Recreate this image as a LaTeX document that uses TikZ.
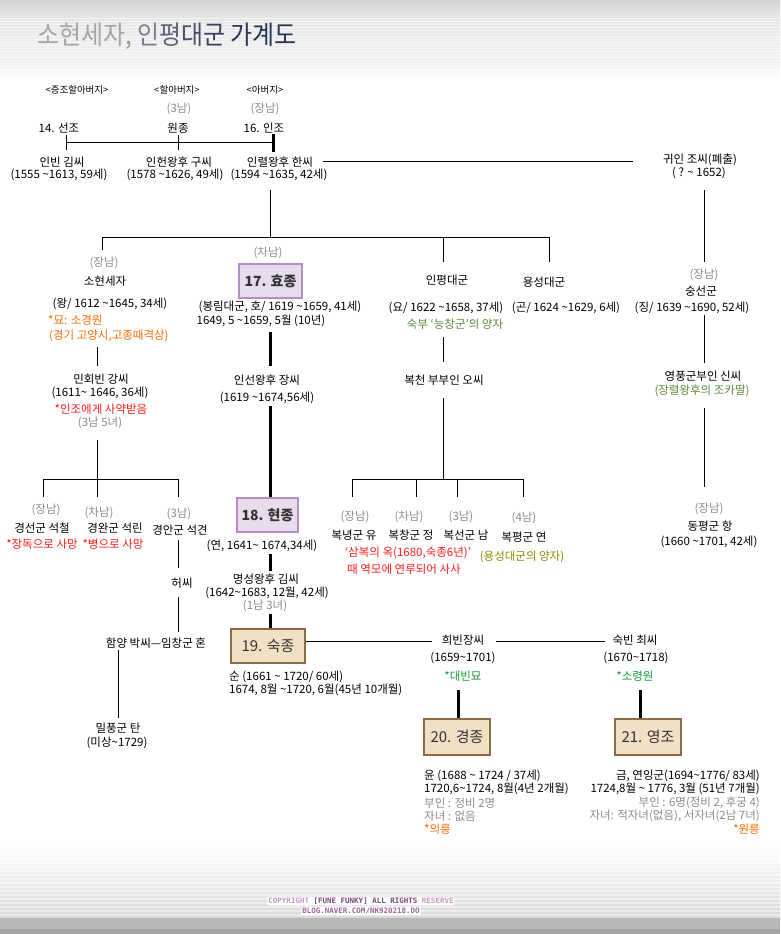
\documentclass[tikz,border=0pt]{standalone}
\usepackage{fontspec}
\usepackage{graphicx}
\setmainfont{Noto Sans CJK KR}
\newfontfamily\monof{DejaVu Sans Mono}
\definecolor{grayt}{HTML}{8C8C8C}
\definecolor{orng}{HTML}{FF6A00}
\definecolor{redt}{HTML}{FF1A1A}
\definecolor{greenA}{HTML}{5A8A3C}
\definecolor{greenB}{HTML}{119933}
\definecolor{olive}{HTML}{8C8C00}
\definecolor{purpF}{HTML}{E8DCEC}
\definecolor{purpB}{HTML}{B88CC8}
\definecolor{beigeF}{HTML}{F2E0C4}
\definecolor{brownB}{HTML}{8A6A48}
\definecolor{boxtext}{HTML}{333333}
\definecolor{tA}{HTML}{A5A5A5}
\definecolor{tB}{HTML}{969696}
\definecolor{tC}{HTML}{7A808E}
\definecolor{tD}{HTML}{5C6678}
\definecolor{tE}{HTML}{44506A}
\definecolor{tF}{HTML}{364460}
\definecolor{tG}{HTML}{2A3A58}
\definecolor{tH}{HTML}{233352}
\definecolor{cpL}{HTML}{C49AC4}
\definecolor{cpD}{HTML}{7A4A7A}
\definecolor{cpM}{HTML}{9A6A9A}
\begin{document}
\begin{tikzpicture}[x=1pt,y=-1pt,
  tx/.style={inner sep=0pt, font=\fontsize{11.5}{13}\selectfont, text=black},
  gr/.style={tx, text=grayt},
  sm/.style={inner sep=0pt, font=\fontsize{9.5}{11}\selectfont, text=black},
  ort/.style={tx, text=orng},
  rdt/.style={tx, text=redt},
  gnA/.style={tx, text=greenA},
  gnB/.style={tx, text=greenB},
  olt/.style={tx, text=olive},
  ln/.style={line width=1pt, draw=black},
  royal/.style={line width=3pt, draw=black},
  boxA/.style={draw=purpB, fill=purpF, line width=1.2pt, inner sep=0pt,
     font=\bfseries\fontsize{14}{16}\selectfont, text=boxtext},
  boxB/.style={draw=brownB, fill=beigeF, line width=1.2pt, inner sep=0pt,
     font=\fontsize{15}{17}\selectfont, text=boxtext}
]
\useasboundingbox (0,0) rectangle (780,934);
\fill[white] (0,0) rectangle (780,934);
% header band
\shade[top color=black!17, bottom color=black!10] (0,0) rectangle (780,16);
\shade[top color=black!10, bottom color=black!5] (0,16) rectangle (780,60);
\shade[top color=black!6, bottom color=white] (0,60) rectangle (780,80);
\foreach \yy in {18,21,...,75} \fill[white, opacity=0.5] (0,\yy) rectangle (780,\yy+1);
% footer band
\shade[top color=white, bottom color=black!15] (0,845) rectangle (780,918);
\foreach \yy in {850,854,...,914} \fill[white, opacity=0.45] (0,\yy) rectangle (780,\yy+1.5);
\fill[black!28] (0,918) rectangle (780,929);
\fill[black!36] (0,929) rectangle (780,934);

% title
\node[anchor=west, inner sep=0pt] (title) at (37,36) {\scalebox{0.92}[1]{\fontsize{26}{30}\selectfont
 \textcolor{tA}{소현세자}\textcolor{tB}{,} \textcolor{tC}{인}\textcolor{tD}{평}\textcolor{tE}{대}\textcolor{tF}{군} \textcolor{tG}{가}\textcolor{tH}{계도}}};

% generation labels
\node[sm] (lab1) at (77,90) {<증조할아버지>};
\node[sm] (lab2) at (177,90) {<할아버지>};
\node[sm] (lab3) at (265,90) {<아버지>};
\node[gr] (wj3) at (179,109) {(3남)};
\node[gr] (ij1) at (265,109) {(장남)};
\node[tx] (seonjo) at (59,128) {14. 선조};
\node[tx] (wonjong) at (178,128) {원종};
\node[tx] (injo) at (264,128) {16. 인조};
\node[tx] (inbin) at (62,162) {인빈 김씨};
\node[tx] (inbinY) at (59,175) {(1555 \textasciitilde1613, 59세)};
\node[tx] (inheon) at (179,162) {인헌왕후 구씨};
\node[tx] (inheonY) at (175,175) {(1578 \textasciitilde1626, 49세)};
\node[tx] (inryeol) at (280,162) {인렬왕후 한씨};
\node[tx] (inryeolY) at (279,175) {(1594 \textasciitilde1635, 42세)};
\node[tx] (gwiin) at (700,160) {귀인 조씨(폐출)};
\node[tx] (gwiinY) at (699,173) {( ?  \textasciitilde\ 1652)};

% generation 2
\node[gr] (sh1) at (104,263) {(장남)};
\node[tx] (sohyeon) at (105,281) {소현세자};
\node[gr] (hj2) at (268,253) {(차남)};
\node[boxA, minimum width=63pt, minimum height=34pt] (hyojong) at (270.5,281) {17. 효종};
\node[tx] (inpyeong) at (447,280) {인평대군};
\node[tx] (yongseong) at (544,282) {용성대군};
\node[gr] (ss1) at (704,275) {(장남)};
\node[tx] (sungseon) at (701,291) {숭선군};
\node[tx] (sohyeonY) at (110,304) {(왕/ 1612 \textasciitilde1645, 34세)};
\node[tx] (hyojongY) at (280,307) {(봉림대군, 호/ 1619 \textasciitilde1659, 41세)};
\node[tx] (hyojongR) at (261,321) {1649, 5 \textasciitilde1659, 5월 (10년)};
\node[ort, anchor=west] (sohyeonM) at (48,320) {*묘: 소경원};
\node[ort, anchor=west] (sohyeonM2) at (49,336) {(경기 고양시,고종때격상)};
\node[tx] (inpyeongY) at (446,308) {(요/ 1622 \textasciitilde1658, 37세)};
\node[tx] (yongseongY) at (566,308) {(곤/ 1624 \textasciitilde1629, 6세)};
\node[tx] (sungseonY) at (692,308) {(징/ 1639 \textasciitilde1690, 52세)};
\node[gnA] (inpyeongN) at (455,324) {숙부 ‘능창군’의 양자};
\node[tx] (minhoe) at (101,379) {민회빈 강씨};
\node[tx] (minhoeY) at (100,393) {(1611\textasciitilde\ 1646, 36세)};
\node[rdt] (minhoeN) at (101,409) {*인조에게 사약받음};
\node[gr] (minhoeC) at (100,423) {(3남 5녀)};
\node[tx] (inseon) at (267,380) {인선왕후 장씨};
\node[tx] (inseonY) at (267,398) {(1619 \textasciitilde1674,56세)};
\node[tx] (bokcheon) at (444,380) {복천 부부인 오씨};
\node[tx] (yeongpung) at (703,376) {영풍군부인 신씨};
\node[gnA] (yeongpungN) at (702,391) {(장렬왕후의 조카딸)};

% generation 3
\node[gr] (gs1) at (46,510) {(장남)};
\node[tx] (gyeongseon) at (42,528) {경선군 석철};
\node[rdt] (gyeongseonN) at (42,544) {*장독으로 사망};
\node[gr] (gw2) at (99,513) {(차남)};
\node[tx] (gyeongwan) at (115,528) {경완군 석린};
\node[rdt] (gyeongwanN) at (113,544) {*병으로 사망};
\node[gr] (ga3) at (179,514) {(3남)};
\node[tx] (gyeongan) at (180,530) {경안군 석견};
\node[boxA, minimum width=61pt, minimum height=34pt] (hyeonjong) at (267.5,515) {18. 현종};
\node[tx] (hyeonjongY) at (262,546) {(연, 1641\textasciitilde\ 1674,34세)};
\node[tx] (myeongseong) at (266,579) {명성왕후 김씨};
\node[tx] (myeongseongY) at (267,593) {(1642\textasciitilde1683, 12월, 42세)};
\node[gr] (myeongseongC) at (265,606) {(1남 3녀)};
\node[tx] (heo) at (182,583) {허씨};
\node[gr] (bn1) at (355,517) {(장남)};
\node[tx] (boknyeong) at (354,535) {복녕군 유};
\node[gr] (bc2) at (409,517) {(차남)};
\node[tx] (bokchang) at (411,535) {복창군 정};
\node[gr] (bs3) at (461,517) {(3남)};
\node[tx] (bokseon) at (466,535) {복선군 남};
\node[gr] (bp4) at (524,518) {(4남)};
\node[tx] (bokpyeong) at (524,537) {복평군 연};
\node[rdt] (sambok1) at (408,553) {‘삼복의 옥(1680,숙종6년)’};
\node[rdt] (sambok2) at (404,569) {때 역모에 연루되어 사사};
\node[olt] (bokpyeongN) at (522,557) {(용성대군의 양자)};
\node[gr] (dp1) at (709,509) {(장남)};
\node[tx] (dongpyeong) at (710,526) {동평군 항};
\node[tx] (dongpyeongY) at (709,542) {(1660 \textasciitilde1701, 42세)};

% generation 4
\node[tx] (imchang) at (156,643) {함양 박씨—임창군 혼};
\node[boxB, minimum width=74pt, minimum height=34pt] (sukjong) at (268,646) {19. 숙종};
\node[tx] (huibin) at (463,640) {희빈장씨};
\node[tx] (huibinY) at (463,658) {(1659\textasciitilde1701)};
\node[gnB] (huibinM) at (463,676) {*대빈묘};
\node[tx] (sukbin) at (635,640) {숙빈 최씨};
\node[tx] (sukbinY) at (636,658) {(1670\textasciitilde1718)};
\node[gnB] (sukbinM) at (635,676) {*소령원};
\node[tx, anchor=west] (sukjongY) at (229,677) {순 (1661 \textasciitilde\ 1720/ 60세)};
\node[tx, anchor=west] (sukjongR) at (229,690) {1674, 8월 \textasciitilde1720, 6월(45년 10개월)};
\node[tx] (milpung) at (118,728) {밀풍군 탄};
\node[tx] (milpungY) at (117,743) {(미상\textasciitilde1729)};

% generation 5
\node[boxB, minimum width=66pt, minimum height=36pt] (gyeongjong) at (457,737) {20. 경종};
\node[boxB, minimum width=66pt, minimum height=36pt] (yeongjo) at (648,737) {21. 영조};
\node[tx, anchor=west] (gj1) at (424,776) {윤 (1688 \textasciitilde\ 1724 / 37세)};
\node[tx, anchor=west] (gj2) at (424,789) {1720,6\textasciitilde1724, 8월(4년 2개월)};
\node[gr, anchor=west] (gj3) at (424,803) {부인 : 정비 2명};
\node[gr, anchor=west] (gj4) at (424,816) {자녀 : 없음};
\node[ort, anchor=west] (gj5) at (424,829) {*의릉};
\node[tx, anchor=east] (yj1) at (760,776) {금, 연잉군(1694\textasciitilde1776/ 83세)};
\node[tx, anchor=east] (yj2) at (760,789) {1724,8월 \textasciitilde\ 1776, 3월 (51년 7개월)};
\node[gr, anchor=east] (yj3) at (760,803) {부인 : 6명(정비 2, 후궁 4)};
\node[gr, anchor=east] (yj4) at (760,816) {자녀: 적자녀(없음), 서자녀(2남 7녀)};
\node[ort, anchor=east] (yj5) at (760,829) {*원릉};

% footer
\node[fill=white, rounded corners=1.5pt, inner sep=1pt, font=\monof\bfseries\fontsize{7.5}{9}\selectfont] (copy1) at (361,901)
  {\textcolor{cpL}{COPYRIGHT} \textcolor{cpD}{[FUNE FUNKY] ALL RIGHTS} \textcolor{cpL}{RESERVE}};
\node[fill=white, rounded corners=1.5pt, inner sep=1pt, font=\monof\bfseries\fontsize{7.5}{9}\selectfont, text=cpM] (copy2) at (361,911)
  {BLOG.NAVER.COM/NK920218.DO};

% junction coordinates
\coordinate (a1) at (66,135);  \coordinate (a1b) at (66,150);
\coordinate (a2) at (178,135); \coordinate (a2b) at (178,150);
\coordinate (a3) at (273,134); \coordinate (a3b) at (273,152);
\coordinate (h1L) at (66,142); \coordinate (h1R) at (273,142);
\coordinate (s1) at (323,161); \coordinate (s2) at (633,161);
\coordinate (g1) at (704,190); \coordinate (g2) at (704,262);
\coordinate (c1) at (270,190); \coordinate (c2) at (270,237);
\coordinate (b1) at (102,237); \coordinate (b1d) at (102,250);
\coordinate (b3) at (443,237); \coordinate (b3d) at (443,262);
\coordinate (b4) at (549,237); \coordinate (b4d) at (549,262);

% connectors gen 1
\draw[ln] (a1) -- (a1b);
\draw[ln] (a2) -- (a2b);
\draw[royal] (a3) -- (a3b);
\draw[ln] (h1L) -- (h1R);
\draw[ln] (s1) -- (s2);
\draw[ln] (g1) -- (g2);
\draw[ln] (c1) -- (c2);
\draw[ln] (b1) -- (b4);
\draw[ln] (b1) -- (b1d);
\draw[ln] (b3) -- (b3d);
\draw[ln] (b4) -- (b4d);

% connectors gen 2 -> spouses
\coordinate (d1) at (97,347);  \coordinate (d1b) at (97,366);
\coordinate (d2) at (270,332); \coordinate (d2b) at (270,366);
\coordinate (d3) at (443,337); \coordinate (d3b) at (443,362);
\coordinate (d4) at (704,315); \coordinate (d4b) at (704,363);
\draw[ln] (d1) -- (d1b);
\draw[royal] (d2) -- (d2b);
\draw[ln] (d3) -- (d3b);
\draw[ln] (d4) -- (d4b);

% spouses -> children
\coordinate (e1) at (97,440); \coordinate (e1j) at (97,479);
\coordinate (e1L) at (43,479); \coordinate (e1R) at (178,479);
\coordinate (e1Ld) at (43,497); \coordinate (e1Md) at (97,497); \coordinate (e1Rd) at (178,497);
\draw[ln] (e1) -- (e1Md);
\draw[ln] (e1L) -- (e1R);
\draw[ln] (e1L) -- (e1Ld);
\draw[ln] (e1R) -- (e1Rd);
\coordinate (e2) at (270,406);
\draw[royal] (e2) -- (e2 |- hyeonjong.north);
\coordinate (e3) at (443,398); \coordinate (e3j) at (443,479);
\coordinate (e3L) at (352,479); \coordinate (e3R) at (523,479);
\coordinate (e3a) at (416,479); \coordinate (e3b) at (457,479);
\draw[ln] (e3) -- (e3j);
\draw[ln] (e3L) -- (e3R);
\foreach \p in {e3L,e3a,e3b,e3R} \draw[ln] (\p) -- ++(0,18);
\coordinate (e4) at (704,408); \coordinate (e4b) at (704,487);
\draw[ln] (e4) -- (e4b);

% gen 3 -> gen 4
\coordinate (f1) at (178,540); \coordinate (f1b) at (178,568);
\coordinate (f2) at (178,597); \coordinate (f2b) at (178,632);
\draw[ln] (f1) -- (f1b);
\draw[ln] (f2) -- (f2b);
\coordinate (f3) at (270,554); \coordinate (f3b) at (270,571);
\coordinate (f4) at (270,614);
\draw[royal] (f3) -- (f3b);
\draw[royal] (f4) -- (f4 |- sukjong.north);
\coordinate (k1) at (432,641); \coordinate (k2) at (496,641); \coordinate (k3) at (605,641);
\draw[ln] (sukjong.east |- k1) -- (k1);
\draw[ln] (k2) -- (k3);
\coordinate (m1) at (118,650); \coordinate (m1b) at (118,718);
\draw[ln] (m1) -- (m1b);
\coordinate (q1) at (458,690); \coordinate (q2) at (640,690);
\draw[royal] (q1) -- (q1 |- gyeongjong.north);
\draw[royal] (q2) -- (q2 |- yeongjo.north);
\end{tikzpicture}
\end{document}
